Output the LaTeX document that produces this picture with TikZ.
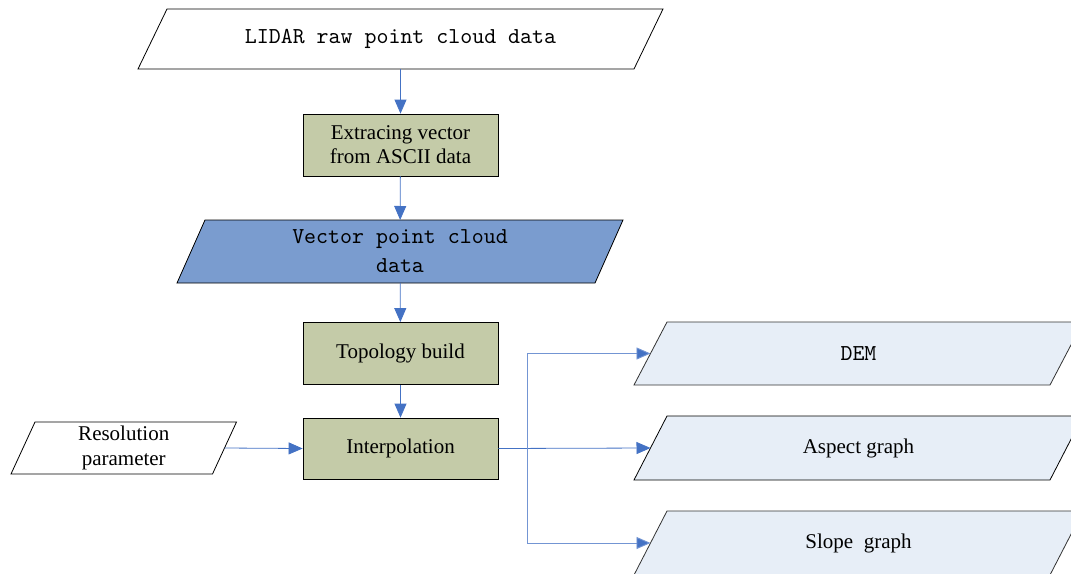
\documentclass[tikz,border=0pt]{standalone}
\usepackage{fontspec}
\setmainfont{Liberation Serif}
\newfontfamily\codefont{lmmono10-regular.otf}
\usetikzlibrary{arrows.meta,backgrounds}

\definecolor{flowblue}{RGB}{68,114,196}
\definecolor{procfill}{RGB}{196,203,168}
\definecolor{vecfill}{RGB}{122,156,207}
\definecolor{outfill}{RGB}{231,238,247}

\tikzset{
  procbox/.style={rectangle, draw=black, line width=0.8pt, fill=procfill,
    minimum width=195pt, minimum height=62pt, inner sep=0pt, align=center,
    font=\fontsize{21}{24}\selectfont},
  paratext/.style={rectangle, inner sep=0pt, outer sep=0pt, align=center},
  paraline/.style={draw=black, line width=0.8pt},
  codetext/.style={font=\codefont\fontsize{22.8}{29}\selectfont},
  seriftext/.style={font=\fontsize{21}{25}\selectfont},
  flow/.style={draw=flowblue, line width=0.8pt, -{Triangle[length=14pt,width=12pt]}},
  branch/.style={draw=flowblue!75, line width=0.9pt, -{Triangle[length=14pt,width=12pt,fill=flowblue]}}
}

% parallelogram outline behind a text node: #2 node name, #3 half of the slant
\newcommand\paraoutline[3][]{%
  \begin{pgfonlayer}{background}
    \path[paraline,#1] ([xshift=#3]#2.north west) -- ([xshift=#3]#2.north east)
      -- ([xshift=-#3]#2.south east) -- ([xshift=-#3]#2.south west) -- cycle;
  \end{pgfonlayer}}

\begin{document}
\begin{tikzpicture}[x=1pt,y=-1pt]
\useasboundingbox (0,0) rectangle (1071,573);
\clip (0,0) rectangle (1071,573);

% main chain
\node[paratext, codetext, minimum width=496pt, minimum height=60pt]
  (raw) at (400.5,39) {LIDAR raw point cloud data};
\paraoutline[fill=white]{raw}{14.5pt}
\node[procbox] (extract) at (400.5,145) {Extracing vector\\from ASCII data};
\node[paratext, codetext, minimum width=418pt, minimum height=63pt]
  (vector) at (400,251.5) {Vector point cloud\\data};
\paraoutline[fill=vecfill]{vector}{14pt}
\node[procbox] (topo) at (400.5,353.5) {Topology build};
\node[procbox, minimum height=61pt] (interp) at (400.5,448.5) {Interpolation};

% input parameter
\node[paratext, seriftext, minimum width=201.5pt, minimum height=52pt]
  (res) at (123.75,448) {Resolution\\parameter};
\paraoutline[fill=white]{res}{12pt}

% outputs
\node[paratext, codetext, minimum width=416pt, minimum height=63pt]
  (dem) at (858.5,353.5) {DEM};
\paraoutline[fill=outfill, draw=black!80]{dem}{16.5pt}
\node[paratext, seriftext, minimum width=416pt, minimum height=64pt]
  (aspect) at (858.5,448) {Aspect graph};
\paraoutline[fill=outfill]{aspect}{16.5pt}
\node[paratext, seriftext, minimum width=416pt, minimum height=64pt]
  (slope) at (858.5,543) {Slope~ graph};
\paraoutline[fill=outfill, draw=black!80]{slope}{16.5pt}

% connectors
\draw[flow] (raw) -- (extract);
\draw[flow] (extract) -- (vector);
\draw[flow] (vector) -- (topo);
\draw[flow] (topo) -- (interp);
\draw[flow] (res.east) -- (interp.west);
\coordinate (fork) at ([xshift=29pt]interp.east);
\draw[flow] (interp.east) -- (aspect.west);
\draw[branch] (fork) |- (dem.west);
\draw[branch] (fork) |- (slope.west);
\end{tikzpicture}
\end{document}
